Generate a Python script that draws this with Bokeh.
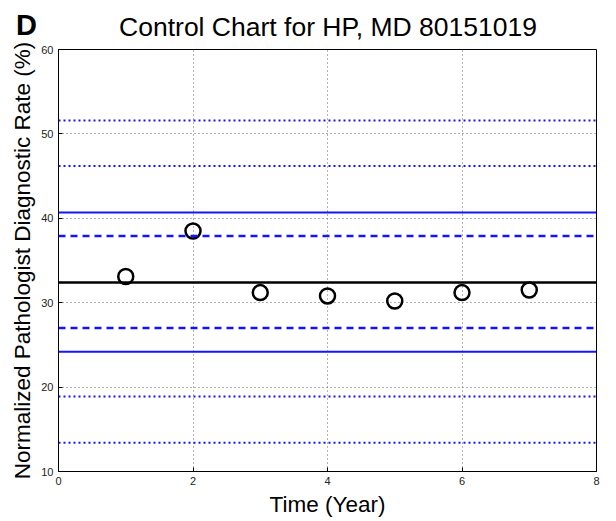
from bokeh.plotting import figure
from bokeh.models import Span, Range1d, FixedTicker, Div
from bokeh.layouts import column
from bokeh.embed import file_html
from bokeh.resources import INLINE

# data
years = [1, 2, 3, 4, 5, 6, 7]
rates = [33.1, 38.5, 31.2, 30.8, 30.2, 31.2, 31.5]
center_line = [32.4]
solid_limits = [40.7, 24.2]
dashed_limits = [37.9, 27.0]
dotted_limits = [51.6, 46.2, 18.9, 13.4]
x_ticks = [0, 2, 4, 6, 8]
y_ticks = [10, 20, 30, 40, 50, 60]
panel_letter = "D"
title_text = "Control Chart for HP, MD 80151019"

FONT = "Liberation Sans"
HEADER_H = 43

header = Div(
    text=(
        f'<div style="position:relative;width:616px;height:{HEADER_H}px;'
        f'font-family:\'{FONT}\';color:black;">'
        f'<span style="position:absolute;left:16px;top:11px;font-size:29px;'
        f'line-height:29px;font-weight:bold;">{panel_letter}</span>'
        f'<span style="position:absolute;left:20px;width:616px;top:14px;'
        f'text-align:center;font-size:26.5px;line-height:26px;">{title_text}</span>'
        '</div>'
    ),
    width=616, height=HEADER_H, margin=0,
)

p = figure(width=616, height=521 - HEADER_H, output_backend="svg",
           toolbar_location=None, title=None,
           x_range=Range1d(0, 8), y_range=Range1d(10, 60),
           min_border_left=58, min_border_right=20, min_border_top=6,
           min_border_bottom=50, margin=0)

p.outline_line_color = "black"
p.outline_line_width = 1
p.background_fill_color = "white"
p.border_fill_color = "white"

for ax in (p.xaxis[0], p.yaxis[0]):
    ax.major_tick_in = 4
    ax.major_tick_out = 0
    ax.minor_tick_in = 0
    ax.minor_tick_out = 0
    ax.axis_line_color = "black"
    ax.major_label_text_font = FONT
    ax.major_label_text_font_size = "11px"
    ax.major_label_text_color = "#222222"
    ax.axis_label_text_font = FONT
    ax.axis_label_text_font_size = "22.5px"
    ax.axis_label_text_font_style = "normal"
    ax.axis_label_text_color = "black"

p.xaxis.ticker = FixedTicker(ticks=x_ticks)
p.yaxis.ticker = FixedTicker(ticks=y_ticks)
p.xaxis.axis_label = "Time (Year)"
p.yaxis.axis_label = "Normalized Pathologist Diagnostic Rate (%)"
p.xaxis.major_label_standoff = 5
p.yaxis.major_label_standoff = 5
p.xaxis.axis_label_standoff = 4
p.yaxis.axis_label_standoff = 3

p.grid.grid_line_color = "#666666"
p.grid.grid_line_dash = "1 3"
p.grid.grid_line_width = 1
p.xgrid.ticker = FixedTicker(ticks=x_ticks)
p.ygrid.ticker = FixedTicker(ticks=y_ticks)

BLUE = "#1414ff"
for v in dotted_limits:
    p.add_layout(Span(location=v, dimension="width", line_color=BLUE,
                      line_width=2, line_dash="2 3"))
for v in dashed_limits:
    p.add_layout(Span(location=v, dimension="width", line_color=BLUE,
                      line_width=2.5, line_dash="7 5"))
for v in solid_limits:
    p.add_layout(Span(location=v, dimension="width", line_color=BLUE,
                      line_width=2))
for v in center_line:
    p.add_layout(Span(location=v, dimension="width", line_color="black",
                      line_width=2.5))

p.scatter(x=years, y=rates, marker="circle", size=15, fill_color=None,
          line_color="black", line_width=2.5)

layout = column(header, p, spacing=0, margin=0)

open("out.html", "w").write(file_html(layout, INLINE))
